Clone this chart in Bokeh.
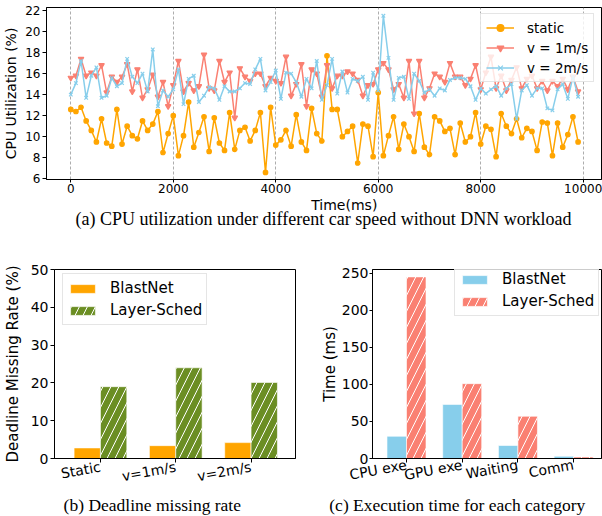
import numpy as np
from bokeh.plotting import figure
from bokeh.layouts import column, row
from bokeh.models import Legend, LegendItem, FixedTicker, Range1d
from bokeh.core.properties import value
from bokeh.embed import file_html
from bokeh.resources import INLINE

# ---------------- data ----------------
time_ms = list(range(0, 10000, 100))
static = [12.6, 12.4, 12.8, 11.5, 10.6, 9.5, 11.7, 9.4, 9.1, 12.6,
          9.3, 11.0, 10.1, 9.8, 11.5, 10.6, 11.2, 12.4, 8.5, 10.3,
          12.0, 8.2, 10.1, 13.3, 9.0, 10.4, 11.9, 8.6, 11.8, 9.4,
          8.7, 12.3, 8.8, 10.6, 10.9, 9.6, 10.6, 12.3, 6.6, 12.8,
          9.2, 9.7, 10.6, 9.1, 12.1, 9.5, 8.7, 12.7, 10.3, 9.6,
          17.7, 12.6, 12.6, 10.0, 10.5, 11.0, 7.5, 11.2, 11.0, 8.1,
          14.2, 8.2, 10.1, 11.9, 8.8, 11.2, 10.0, 8.6, 12.2, 9.0,
          8.3, 11.9, 11.5, 10.5, 10.8, 8.3, 11.3, 9.5, 10.0, 12.3,
          9.3, 11.0, 10.7, 8.1, 12.2, 11.0, 10.3, 11.7, 9.9, 10.8,
          10.5, 8.7, 11.4, 11.3, 8.2, 11.3, 9.0, 10.2, 11.9, 9.5]
v1 = [15.6, 15.8, 17.4, 15.8, 16.1, 15.8, 16.8, 14.2, 15.7, 15.2,
      15.7, 16.9, 14.3, 16.4, 13.7, 14.5, 15.9, 13.8, 15.2, 12.9,
      14.9, 17.2, 14.3, 15.1, 14.4, 14.8, 17.8, 14.6, 14.4, 17.2,
      15.2, 16.1, 11.8, 16.5, 15.7, 15.3, 16.0, 16.0, 14.8, 15.6,
      15.3, 15.1, 17.6, 13.9, 15.0, 16.9, 12.9, 16.4, 16.0, 13.8,
      16.8, 14.6, 15.8, 15.8, 16.2, 16.0, 15.4, 13.9, 14.9, 15.0,
      16.4, 17.0, 16.4, 14.5, 15.0, 13.7, 17.2, 12.2, 17.2, 13.7,
      14.6, 16.0, 15.7, 15.2, 17.0, 15.7, 15.7, 14.9, 15.5, 16.8,
      14.5, 16.1, 17.6, 14.6, 15.8, 14.4, 15.4, 16.6, 14.6, 15.5,
      15.8, 14.6, 15.3, 14.4, 15.3, 14.8, 15.5, 14.5, 15.7, 14.3]
v2 = [14.0, 15.1, 17.2, 13.7, 15.8, 16.6, 13.7, 13.9, 15.6, 14.8,
      15.1, 17.4, 15.7, 15.1, 16.0, 14.3, 18.3, 12.9, 14.4, 13.8,
      14.5, 16.4, 13.1, 15.5, 15.8, 13.3, 13.9, 14.7, 14.6, 13.5,
      14.8, 14.3, 14.3, 14.6, 15.1, 15.0, 16.4, 17.4, 14.4, 15.2,
      16.3, 13.6, 16.1, 16.0, 15.2, 13.8, 15.5, 14.6, 17.2, 13.5,
      14.9, 17.4, 14.1, 16.2, 14.2, 15.5, 15.3, 15.7, 13.5, 16.1,
      14.4, 21.5, 17.5, 13.5, 15.6, 15.7, 13.6, 16.0, 15.3, 14.2,
      14.5, 13.9, 14.6, 14.4, 15.4, 15.6, 15.6, 15.5, 14.8, 13.5,
      14.6, 14.1, 14.5, 14.8, 13.9, 14.6, 15.0, 11.7, 14.4, 14.9,
      13.9, 14.6, 14.6, 12.7, 12.5, 14.5, 15.0, 13.6, 15.7, 13.8]
series_names = ["static", "v = 1m/s", "v = 2m/s"]

speed_cats = ["Static", "v=1m/s", "v=2m/s"]
miss_blastnet = [2.8, 3.4, 4.2]
miss_layersched = [19.0, 24.0, 20.1]

exec_cats = ["CPU exe", "GPU exe", "Waiting", "Comm"]
exec_blastnet = [30, 73, 17.5, 3]
exec_layersched = [245, 101, 57, 2]

method_names = ["BlastNet", "Layer-Sched"]
x_label_a = "Time(ms)"
captions = ["(a)  CPU utilization under different car speed without DNN workload",
            "(b)  Deadline missing rate",
            "(c)  Execution time for each category"]

SANS = "DejaVu Sans"
SERIF = "Liberation Serif"


def style(p, tick_size, label_size):
    p.title.visible = False
    p.outline_line_color = "black"
    p.outline_line_width = 1
    p.outline_line_alpha = 1
    p.background_fill_color = "white"
    p.border_fill_color = "white"
    for ax in (p.xaxis[0], p.yaxis[0]):
        ax.axis_line_color = "black"
        ax.major_tick_line_color = "black"
        ax.major_tick_out = 4
        ax.major_tick_in = 0
        ax.minor_tick_line_color = None
        ax.major_label_text_font = SANS
        ax.major_label_text_font_size = tick_size
        ax.major_label_text_color = "black"
        ax.axis_label_text_font = SANS
        ax.axis_label_text_font_size = label_size
        ax.axis_label_text_font_style = "normal"
        ax.axis_label_text_color = "black"
        ax.major_label_standoff = 2


def text_strip(width, height, texts):
    """A bare figure used only to hold captions (texts: list of (text, cx, cy_from_top, font, size))."""
    c = figure(width=width, height=height, x_range=Range1d(0, width), y_range=Range1d(height, 0),
               output_backend="svg", toolbar_location=None,
               x_axis_location=None, y_axis_location=None,
               min_border=0, min_border_left=0, min_border_right=0,
               min_border_top=0, min_border_bottom=0)
    c.title.visible = False
    c.outline_line_color = None
    c.xgrid.visible = False
    c.ygrid.visible = False
    c.background_fill_color = "white"
    c.border_fill_color = "white"
    for t, cx, cy, font, size in texts:
        c.text(x=[cx], y=[cy], text=[t], text_align="center", text_baseline="middle",
               text_font=value(font), text_font_size=size, text_color="black")
    return c


# ---------------- (a) line chart ----------------
p1 = figure(width=602, height=198, x_range=Range1d(-474, 10357), y_range=Range1d(5.93, 22.29),
            output_backend="svg", toolbar_location=None,
            min_border_left=46, min_border_right=1, min_border_top=7, min_border_bottom=19)
style(p1, "12px", "14px")
p1.xaxis.ticker = FixedTicker(ticks=[0, 2000, 4000, 6000, 8000, 10000])
p1.xaxis.major_tick_out = 3
p1.xaxis.major_label_standoff = 1
p1.yaxis.ticker = FixedTicker(ticks=list(range(6, 23, 2)))
p1.yaxis.axis_label = "CPU Utilization (%)"
p1.yaxis.axis_label_standoff = 3
p1.ygrid.visible = False
p1.xgrid.grid_line_color = "#999999"
p1.xgrid.grid_line_dash = "3 2"
p1.xgrid.grid_line_width = 0.9
p1.xgrid.grid_line_alpha = 0.9

colors_a = ["orange", "salmon", "skyblue"]
markers_a = ["circle", "inverted_triangle", "x"]
msizes = [4.5, 5.5, 5]
items = []
for name, ys, c, m, s in zip(series_names, [static, v1, v2], colors_a, markers_a, msizes):
    l = p1.line(time_ms, ys, line_color=c, line_width=1.5)
    sc = p1.scatter(time_ms, ys, marker=m, size=s, fill_color=c, line_color=c, line_width=1.2)
    items.append(LegendItem(label=name, renderers=[l, sc]))
leg1 = Legend(items=items, location=(434, 97), padding=5, spacing=3, label_height=17,
              glyph_height=17, glyph_width=28, label_standoff=13,
              label_text_font=SANS, label_text_font_size="13.5px", label_text_color="black",
              border_line_color="#cccccc", border_line_width=1, background_fill_alpha=0.8)
p1.add_layout(leg1, "center")

capA = text_strip(602, 32, [(x_label_a, 323, 6, SANS, "14px"),
                            (captions[0], 303, 20.5, SERIF, "18px")])

# ---------------- (b) deadline missing ----------------
w = 0.35
xb = np.arange(len(speed_cats))
p2 = figure(width=314, height=265, x_range=Range1d(-0.61, 2.59), y_range=Range1d(0, 50),
            output_backend="svg", toolbar_location=None,
            min_border_left=50, min_border_right=19, min_border_top=39, min_border_bottom=37)
style(p2, "14px", "15px")
p2.xgrid.visible = False
p2.ygrid.visible = False
p2.xaxis.ticker = FixedTicker(ticks=list(xb))
p2.xaxis.major_label_overrides = {int(i): c for i, c in zip(xb, speed_cats)}
p2.xaxis.major_label_orientation = 0.18
p2.xaxis.major_label_standoff = 4
p2.yaxis.ticker = FixedTicker(ticks=[0, 10, 20, 30, 40, 50])
p2.yaxis.axis_label = "Deadline Missing Rate (%)"
p2.yaxis.axis_label_standoff = 6
rb1 = p2.vbar(x=xb - w / 2, top=miss_blastnet, width=w, fill_color="orange",
              line_color="white", line_alpha=0.6, line_width=1)
rb2 = p2.vbar(x=xb + w / 2, top=miss_layersched, width=w, fill_color="olivedrab",
              line_color="white", line_alpha=0.6, line_width=1,
              hatch_pattern="/", hatch_color="white", hatch_scale=16, hatch_weight=1)
leg2 = Legend(items=[LegendItem(label=method_names[0], renderers=[rb1]),
                     LegendItem(label=method_names[1], renderers=[rb2])],
              location=(8, 133), padding=4, spacing=2, label_height=20, glyph_height=11,
              glyph_width=31, label_standoff=12,
              label_text_font=SANS, label_text_font_size="15px", label_text_color="black",
              border_line_color="#cccccc", border_line_width=1, background_fill_alpha=0.8)
p2.add_layout(leg2, "center")

# ---------------- (c) execution time ----------------
xc = np.arange(len(exec_cats))
p3 = figure(width=288, height=265, x_range=Range1d(-0.61, 3.5), y_range=Range1d(0, 255),
            output_backend="svg", toolbar_location=None,
            min_border_left=58, min_border_right=1, min_border_top=35, min_border_bottom=35)
style(p3, "14px", "15px")
p3.xgrid.visible = False
p3.ygrid.visible = False
p3.xaxis.ticker = FixedTicker(ticks=list(xc))
p3.xaxis.major_label_overrides = {int(i): c for i, c in zip(xc, exec_cats)}
p3.xaxis.major_label_orientation = 0.18
p3.xaxis.major_label_standoff = 2
p3.yaxis.ticker = FixedTicker(ticks=[0, 50, 100, 150, 200, 250])
p3.yaxis.axis_label = "Time (ms)"
p3.yaxis.axis_label_standoff = 0
p3.yaxis.major_label_standoff = 1
p3.yaxis.major_tick_out = 3
rc1 = p3.vbar(x=xc - w / 2, top=exec_blastnet, width=w, fill_color="skyblue",
              line_color="white", line_alpha=0.6, line_width=1)
rc2 = p3.vbar(x=xc + w / 2, top=exec_layersched, width=w, fill_color="salmon",
              line_color="white", line_alpha=0.6, line_width=1,
              hatch_pattern="/", hatch_color="white", hatch_scale=16, hatch_weight=1)
leg3 = Legend(items=[LegendItem(label=method_names[0], renderers=[rc1]),
                     LegendItem(label=method_names[1], renderers=[rc2])],
              location=(82, 142), padding=4, spacing=2, label_height=20, glyph_height=11,
              glyph_width=31, label_standoff=12,
              label_text_font=SANS, label_text_font_size="15px", label_text_color="black",
              border_line_color="#cccccc", border_line_width=1, background_fill_alpha=0.8)
p3.add_layout(leg3, "center")

capB = text_strip(314, 21, [(captions[1], 154, 9, SERIF, "17.5px")])
capC = text_strip(288, 21, [(captions[2], 145, 9, SERIF, "17.5px")])

layout = column(p1, capA, row(p2, p3), row(capB, capC))
open("out.html", "w").write(file_html(layout, INLINE))
